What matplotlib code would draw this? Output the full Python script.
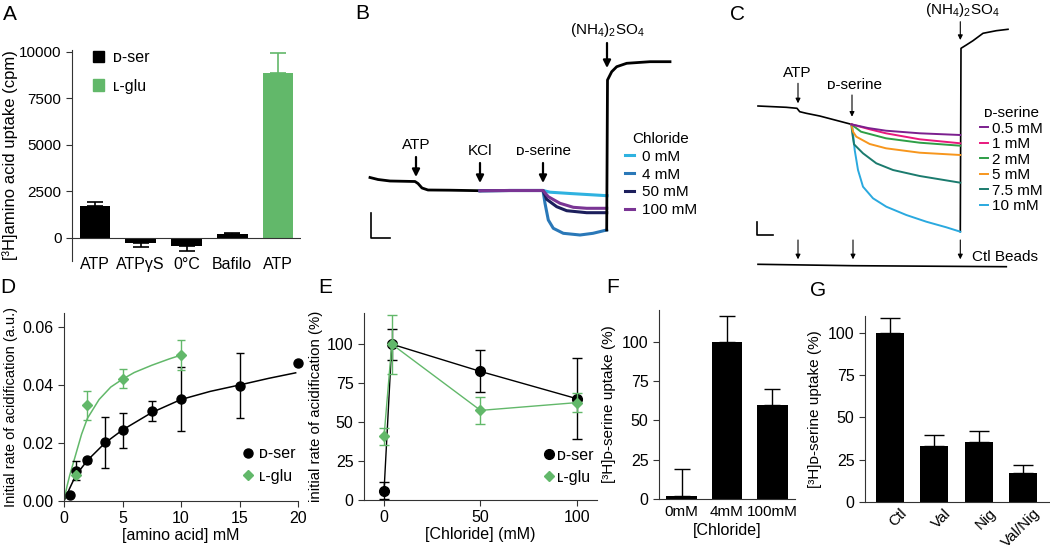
import numpy as np
import matplotlib.pyplot as plt
import matplotlib.transforms as mtransforms
from matplotlib.patches import Patch
from matplotlib.lines import Line2D

plt.rcParams['font.family'] = ['Liberation Sans', 'DejaVu Sans']
plt.rcParams['mathtext.fontset'] = 'custom'
plt.rcParams['mathtext.rm'] = 'Liberation Sans'
plt.rcParams['mathtext.default'] = 'regular'
plt.rcParams['font.size'] = 11.5
plt.rcParams['axes.linewidth'] = 0.8
plt.rcParams['axes.edgecolor'] = '#333333'
plt.rcParams['xtick.color'] = '#333333'
plt.rcParams['ytick.color'] = '#333333'
plt.rcParams['xtick.labelcolor'] = 'black'
plt.rcParams['ytick.labelcolor'] = 'black'

GREEN = '#62b86a'

# ---------------- data ----------------
# A: [3H]amino acid uptake (cpm)
a_labels = ['ATP', 'ATPγS', '0°C', 'Bafilo', 'ATP']
a_vals = [1730, -290, -430, 190, 8850]
a_err = [220, 230, 300, 70, 1080]
a_colors = ['black', 'black', 'black', 'black', GREEN]

# B: acidification traces, chloride series (time s, signal a.u.)
b_pre_t = [0, 8, 20, 45, 48, 52, 58, 80, 110]
b_pre_f = [60.5, 58.5, 57.0, 56.5, 54.5, 50.0, 48.0, 47.8, 47.3]
b_names = ['0 mM', '4 mM', '50 mM', '100 mM']
b_colors = ['#2fb2e0', '#2a78b8', '#1c1f5c', '#7a3594']
b_t = [[110, 140, 173, 180, 200, 237],
       [110, 140, 173, 175, 178.3, 183.3, 193.3, 210, 223, 236.7],
       [110, 140, 173, 176.7, 186.7, 196.7, 216.7, 236.7],
       [110, 140, 173, 178.3, 190, 203.3, 216.7, 236.7]]
b_f = [[47.3, 47.5, 47.5, 45.8, 44.5, 42.3],
       [47.3, 47.5, 47.5, 34.7, 18.0, 9.7, 4.7, 3.0, 4.7, 8.0],
       [47.3, 47.5, 47.5, 38.7, 31.3, 27.3, 25.3, 25.3],
       [47.3, 47.5, 47.5, 41.3, 34.7, 30.7, 29.7, 29.7]]
b_nh4_t = [236.7, 237.5, 241.7, 246.7, 256.7, 280, 300]
b_nh4_f = [8.0, 158, 166.3, 171.3, 174.7, 176.3, 176.3]

# C: acidification traces, D-serine series
c_pre_t = [0, 28.3, 39, 41.7, 48.3, 61.7, 93.3]
c_pre_f = [164, 162.7, 161.7, 158.3, 156.7, 154, 145.7]
c_names = ['0.5 mM', '1 mM', '2 mM', '5 mM', '7.5 mM', '10 mM']
c_colors = ['#7b1f8e', '#e8197d', '#2e9e46', '#f7961d', '#1b7b6e', '#2aa9df']
c_t = [[93.3, 110, 128, 161.7, 202.3],
       [93.3, 111.7, 128, 161.7, 202.3],
       [93.3, 103, 128, 161.7, 202.3],
       [93.3, 95, 98.3, 111.7, 128, 161.7, 202.3],
       [93.3, 94.3, 96, 105, 118.3, 135, 161.7, 202.3],
       [93.3, 94.3, 96.7, 100, 105, 115, 128.3, 148.3, 168.3, 188.3, 202.3]]
c_f = [[145.7, 142, 139.3, 136.7, 135],
       [145.7, 140.7, 136.7, 130.7, 126.7],
       [145.7, 138.3, 131.7, 127.3, 124.3],
       [145.7, 138.3, 133.3, 126, 121.7, 117.3, 115],
       [145.7, 136.7, 125.7, 116.7, 106.7, 100, 94, 87.3],
       [145.7, 143.3, 120, 100, 83.3, 71.7, 63.3, 55, 48.3, 42.7, 38.3]]
c_nh4_t = [202.3, 203, 208.3, 215, 225, 238.3, 250]
c_nh4_f = [38.3, 221.7, 225, 229.3, 236.7, 239.3, 240.7]
c_ctl_t = [0, 95, 248.3]
c_ctl_f = [5.7, 4.3, 3.3]

# D: initial rate vs [amino acid]
d_ser_x = [0.5, 1, 2, 3.5, 5, 7.5, 10, 15, 20]
d_ser_y = [0.0021, 0.0105, 0.0140, 0.0202, 0.0244, 0.0310, 0.0353, 0.0398, 0.0476]
d_ser_err = [0, 0.0034, 0.0008, 0.0089, 0.0061, 0.0034, 0.0110, 0.0113, 0]
d_ser_fit_x = [0, 0.5, 1, 2, 3.5, 5, 7.5, 10, 12.5, 15, 17.5, 19.8]
d_ser_fit_y = [0, 0.0045, 0.0088, 0.0140, 0.0200, 0.0245, 0.0305, 0.0350, 0.0378, 0.0400, 0.0423, 0.0442]
d_glu_x = [1, 2, 5, 10]
d_glu_y = [0.0090, 0.0330, 0.0422, 0.0504]
d_glu_err = [0, 0.0049, 0.0032, 0.0052]
d_glu_fit_x = [0, 0.25, 0.5, 1, 1.5, 2, 3, 4, 5, 6, 7.5, 9, 10]
d_glu_fit_y = [0, 0.005, 0.009, 0.016, 0.023, 0.0285, 0.0350, 0.0393, 0.0420, 0.0443, 0.0468, 0.0490, 0.0503]

# E: initial rate vs [Chloride]
e_x = [0, 4, 50, 100]
e_ser_y = [6, 100, 82.5, 65]
e_ser_err = [5.5, 10, 13.5, 26]
e_glu_y = [41, 100, 57.5, 62.5]
e_glu_err = [5.5, 19, 8.5, 6]

# F: [3H]D-serine uptake vs chloride
f_labels = ['0mM', '4mM', '100mM']
f_vals = [2, 100, 59.5]
f_err = [17, 16.5, 10.5]

# G: [3H]D-serine uptake, ionophores
g_labels = ['Ctl', 'Val', 'Nig', 'Val/Nig']
g_vals = [100, 33, 35.5, 17]
g_err = [9, 6.5, 6.5, 5]

# ---------------- figure ----------------
W, H = 1050, 549
fig = plt.figure(figsize=(W / 100, H / 100), dpi=100)


def px_axes(x0, x1, y0, y1):
    # box given in pixels, y measured from the top
    return fig.add_axes([x0 / W, 1 - y1 / H, (x1 - x0) / W, (y1 - y0) / H])


def panel_label(x, y, s):
    fig.text(x / W, 1 - y / H, s, fontsize=15, ha='left', va='top')


def clean(ax):
    ax.spines['top'].set_visible(False)
    ax.spines['right'].set_visible(False)
    ax.tick_params(direction='out', length=4, width=0.8)


# ---- A ----
ax = px_axes(72, 301, 50, 261)
lo = [e if v < 0 else 0 for v, e in zip(a_vals, a_err)]
hi = [e if v >= 0 else 0 for v, e in zip(a_vals, a_err)]
ax.bar(range(5), a_vals, width=0.67, color=a_colors)
for i in range(5):
    ax.errorbar(i, a_vals[i], yerr=[[lo[i]], [hi[i]]], color=a_colors[i] if i == 4 else 'black',
                capsize=5.5, elinewidth=1.2, capthick=1.2)
ax.axhline(0, color='#333333', lw=0.8)
ax.set_xlim(-0.5, 4.5)
ax.set_ylim(-1250, 10100)
ax.set_yticks([0, 2500, 5000, 7500, 10000])
ax.set_xticks(range(5))
ax.set_xticklabels(a_labels)
clean(ax)
ax.spines['bottom'].set_visible(False)
ax.tick_params(axis='x', length=0, pad=-3)
ax.tick_params(axis='y', labelsize=11)
ax.set_ylabel('[³H]amino acid uptake (cpm)', fontsize=12, labelpad=1)
ax.legend(handles=[Patch(color='black', label='ᴅ-ser'), Patch(color=GREEN, label='ʟ-glu')],
          loc='upper left', bbox_to_anchor=(0.09, 1.0), frameon=False, fontsize=11.5,
          handlelength=0.7, handleheight=0.7, labelspacing=0.85, handletextpad=0.6,
          borderpad=0, borderaxespad=0)
panel_label(3, 5, 'A')

# ---- B ----
ax = px_axes(340, 700, 0, 270)
ax.set_xlim(-30, 330)
ax.set_ylim(-32, 238)
ax.axis('off')
ax.plot(b_pre_t, b_pre_f, color='black', lw=2)
b_lines = []
for t, f, c, n in zip(b_t, b_f, b_colors, b_names):
    ln, = ax.plot(t, f, color=c, lw=2.2, label=n)
    b_lines.append(ln)
ax.plot(b_nh4_t, b_nh4_f, color='black', lw=2)
arrow_b = dict(arrowstyle='-|>', color='black', lw=1.6, mutation_scale=11, shrinkA=0, shrinkB=0)
for t, f0, f1, s in [(46, 81, 61, 'ATP'), (110, 75, 55, 'KCl'), (173, 75, 55, 'ᴅ-serine')]:
    ax.annotate('', xy=(t, f1), xytext=(t, f0), arrowprops=arrow_b)
    ax.text(t, f0 + 5, s, ha='center', va='bottom', fontsize=11)
ax.annotate('', xy=(237, 170), xytext=(237, 195), arrowprops=arrow_b)
ax.text(237, 199, r'(NH$_4$)$_2$SO$_4$', ha='center', va='bottom', fontsize=11)
ax.plot([0.7, 0.7, 20], [24.7, -0.3, -0.3], color='black', lw=1.2)
leg = ax.legend(handles=b_lines, title='Chloride', loc='upper left', bbox_to_anchor=(255, 106),
                bbox_transform=ax.transData, frameon=False, fontsize=11, title_fontsize=11,
                handlelength=0.6, handletextpad=0.5, labelspacing=0.25, borderpad=0, borderaxespad=0)
panel_label(355, 4, 'B')

# ---- C ----
ax = px_axes(720, 1050, 0, 290)
ax.set_xlim(-38, 292)
ax.set_ylim(-20, 270)
ax.axis('off')
ax.plot(c_pre_t, c_pre_f, color='black', lw=1.2)
c_lines = []
for t, f, c, n in zip(c_t, c_f, c_colors, c_names):
    ln, = ax.plot(t, f, color=c, lw=1.4, label=n)
    c_lines.append(ln)
for k, ln in enumerate(c_lines):
    ln.set_zorder(3 - k * 0.1)
ax.plot(c_nh4_t, c_nh4_f, color='black', lw=1.2)
ax.plot(c_ctl_t, c_ctl_f, color='black', lw=1.2)
arrow_c = dict(arrowstyle='-|>', color='black', lw=0.8, mutation_scale=7, shrinkA=0, shrinkB=0)
ax.annotate('', xy=(40, 166.7), xytext=(40, 186.7), arrowprops=arrow_c)
ax.text(39, 190, 'ATP', ha='center', va='bottom', fontsize=11)
ax.annotate('', xy=(94, 153.3), xytext=(94, 175), arrowprops=arrow_c)
ax.text(97, 178, 'ᴅ-serine', ha='center', va='bottom', fontsize=11)
ax.annotate('', xy=(202.3, 230), xytext=(202.3, 248.3), arrowprops=arrow_c)
ax.text(204.3, 251, r'(NH$_4$)$_2$SO$_4$', ha='center', va='bottom', fontsize=11)
for t in [40, 95, 202.3]:
    ax.annotate('', xy=(t, 10.7), xytext=(t, 30), arrowprops=arrow_c)
ax.text(247, 13.3, 'Ctl Beads', ha='center', va='center', fontsize=11)
ax.plot([-1.3, -1.3, 15.3], [48.3, 35, 35], color='black', lw=1.2)
ax.legend(handles=c_lines, title='ᴅ-serine', loc='upper left', bbox_to_anchor=(222, 164),
          bbox_transform=ax.transData, frameon=False, fontsize=11, title_fontsize=11,
          handlelength=0.5, handletextpad=0.3, labelspacing=0.1, borderpad=0, borderaxespad=0)
panel_label(730, 5, 'C')

# ---- D ----
ax = px_axes(64, 298, 312.5, 501)
ax.plot(d_ser_fit_x, d_ser_fit_y, color='black', lw=1.1)
ax.plot(d_glu_fit_x, d_glu_fit_y, color=GREEN, lw=1.1)
ax.errorbar(d_ser_x, d_ser_y, yerr=d_ser_err, fmt='o', color='black', ms=6.5, capsize=3,
            elinewidth=1, capthick=1, clip_on=False, zorder=3)
ax.errorbar(d_glu_x, d_glu_y, yerr=d_glu_err, fmt='D', color=GREEN, ms=5, capsize=3,
            elinewidth=1, capthick=1, clip_on=False, zorder=4)
ax.set_xlim(0, 20)
ax.set_ylim(0, 0.065)
ax.set_xticks([0, 5, 10, 15, 20])
ax.set_yticks([0, 0.02, 0.04, 0.06])
ax.set_yticklabels(['0.00', '0.02', '0.04', '0.06'])
clean(ax)
ax.set_xlabel('[amino acid] mM', fontsize=11.5, labelpad=1)
ax.set_ylabel('Initial rate of acidification (a.u.)', fontsize=10.5, labelpad=3)
ax.legend(handles=[Line2D([], [], ls='', marker='o', ms=6.5, color='black', label='ᴅ-ser'),
                   Line2D([], [], ls='', marker='D', ms=5, color=GREEN, label='ʟ-glu')],
          loc='upper left', bbox_to_anchor=(0.76, 0.29), frameon=False, fontsize=11.5,
          handlelength=0.8, handletextpad=0.3, labelspacing=0.45, borderpad=0, borderaxespad=0)
panel_label(0, 278, 'D')

# ---- E ----
ax = px_axes(364, 597, 313, 500)
ax.errorbar(e_x, e_ser_y, yerr=e_ser_err, fmt='-o', color='black', lw=1, ms=7, capsize=3.5,
            elinewidth=1, capthick=1, clip_on=False, zorder=3)
ax.errorbar(e_x, e_glu_y, yerr=e_glu_err, fmt='-D', color=GREEN, lw=1, ms=5.5, capsize=3.5,
            elinewidth=1, capthick=1, clip_on=False, zorder=4)
ax.set_xlim(-10.4, 110.4)
ax.set_ylim(0, 120)
ax.set_xticks([0, 50, 100])
ax.set_yticks([0, 25, 50, 75, 100])
clean(ax)
ax.set_xlabel('[Chloride] (mM)', fontsize=11.5, labelpad=1)
ax.set_ylabel('initial rate of acidification (%)', fontsize=10.8, labelpad=3)
ax.legend(handles=[Line2D([], [], ls='', marker='o', ms=7, color='black', label='ᴅ-ser'),
                   Line2D([], [], ls='', marker='D', ms=5.5, color=GREEN, label='ʟ-glu')],
          loc='upper left', bbox_to_anchor=(0.775, 0.28), frameon=False, fontsize=11.5,
          handlelength=0.6, handletextpad=0.2, labelspacing=0.45, borderpad=0, borderaxespad=0)
panel_label(318, 278, 'E')

# ---- F ----
ax = px_axes(659, 795, 310, 499)
ax.bar(range(3), f_vals, width=0.67, color='black')
ax.errorbar(range(3), f_vals, yerr=[[0, 0, 0], f_err], fmt='none', ecolor='black',
            capsize=6, elinewidth=1, capthick=1)
ax.set_xlim(-0.5, 2.5)
ax.set_ylim(0, 120)
ax.set_yticks([0, 25, 50, 75, 100])
ax.set_xticks(range(3))
ax.set_xticklabels(f_labels)
clean(ax)
ax.tick_params(axis='x', length=0, pad=4, labelsize=11)
ax.set_xlabel('[Chloride]', fontsize=11.5, labelpad=3)
ax.set_ylabel('[³H]ᴅ-serine uptake (%)', fontsize=11, labelpad=4)
panel_label(606, 278, 'F')

# ---- G ----
ax = px_axes(865, 1050, 316, 502)
ax.bar(range(4), g_vals, width=0.63, color='black')
ax.errorbar(range(4), g_vals, yerr=[[0, 0, 0, 0], g_err], fmt='none', ecolor='black',
            capsize=7, elinewidth=1, capthick=1)
ax.set_xlim(-0.56, 3.6)
ax.set_ylim(0, 110)
ax.set_yticks([0, 25, 50, 75, 100])
ax.set_xticks(range(4))
ax.set_xticklabels(g_labels, rotation=45, ha='right', va='top', rotation_mode='anchor')
clean(ax)
ax.tick_params(axis='x', length=0, pad=3, labelsize=11)
shift = mtransforms.ScaledTranslation(7 / 72, 0, fig.dpi_scale_trans)
for lab in ax.get_xticklabels():
    lab.set_transform(lab.get_transform() + shift)
ax.set_ylabel('[³H]ᴅ-serine uptake (%)', fontsize=11, labelpad=4)
panel_label(810, 281, 'G')

fig.savefig('out.png', dpi=100)
